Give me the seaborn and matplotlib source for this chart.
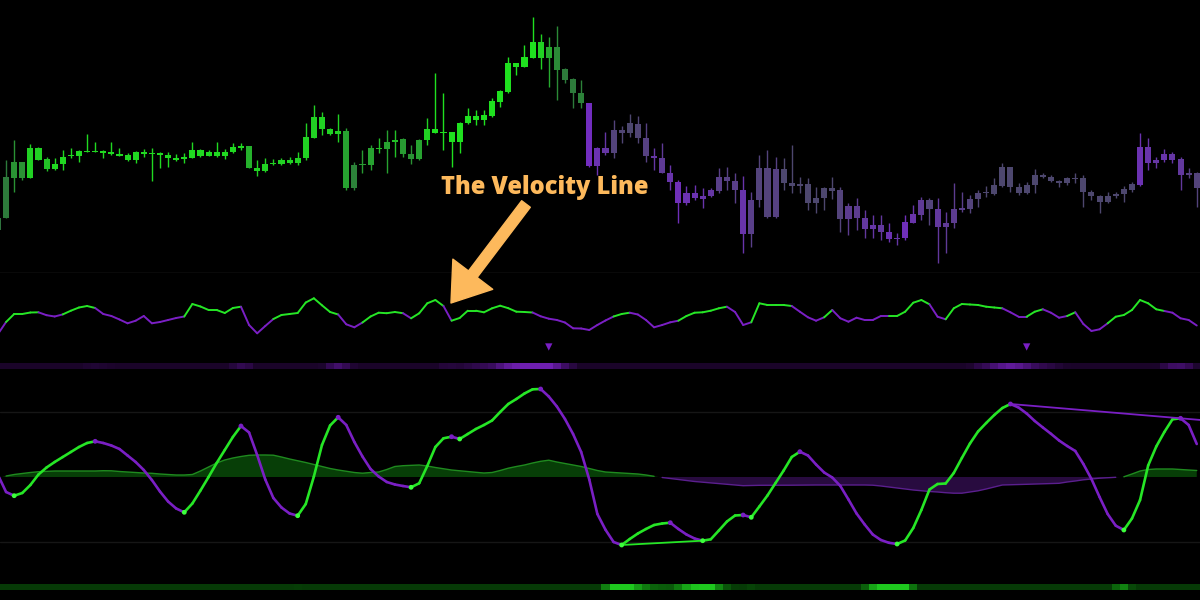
import numpy as np
import matplotlib.pyplot as plt
import seaborn as sns
from matplotlib.collections import LineCollection
from matplotlib.patches import FancyArrowPatch, ArrowStyle
from matplotlib.colors import LinearSegmentedColormap, Normalize

# ---- price candles (no axis shown, arbitrary price units) ----
body_top = [82, 123, 138, 138, 152, 152, 141, 136, 143, 145, 149, 149, 149, 149, 148, 146, 145, 148, 148, 147,
            147, 145, 142, 143, 150, 150, 148, 148, 148, 153, 154, 154, 132, 136, 137, 140, 140, 142, 163, 183,
            183, 171, 169, 169, 135, 136, 152, 152, 158, 160, 161, 146, 160, 171, 171, 168, 168, 177, 184, 184,
            185, 199, 209, 237, 237, 243, 258, 258, 253, 253, 231, 221, 207, 197, 152, 152, 170, 170, 177, 176,
            162, 144, 142, 127, 118, 107, 107, 104, 110, 123, 123, 119, 110, 100, 132, 132, 131, 131, 117, 116,
            116, 102, 112, 112, 110, 94, 94, 82, 75, 75, 68, 62, 78, 86, 100, 100, 91, 77, 91, 92,
            101, 107, 108, 115, 133, 133, 113, 115, 125, 125, 123, 119, 122, 122, 122, 108, 104, 104, 106, 111,
            116, 153, 153, 140, 146, 146, 141, 127, 127]
body_bottom = [70, 82, 122, 122, 122, 140, 131, 131, 136, 144, 144, 148, 148, 147, 146, 144, 140, 140, 146, 146,
               145, 142, 140, 141, 142, 144, 144, 144, 144, 148, 152, 132, 129, 129, 136, 136, 137, 137, 142, 162,
               171, 166, 166, 112, 112, 135, 135, 151, 151, 158, 146, 141, 141, 160, 167, 167, 158, 158, 177, 180,
               180, 184, 198, 208, 233, 233, 242, 242, 242, 230, 220, 207, 197, 134, 134, 147, 147, 167, 167, 162,
               144, 142, 127, 118, 97, 97, 102, 101, 104, 109, 119, 110, 66, 66, 100, 83, 83, 117, 114, 114,
               97, 97, 102, 109, 81, 81, 82, 71, 71, 68, 61, 61, 62, 77, 85, 91, 73, 73, 77, 90,
               91, 101, 107, 106, 114, 113, 107, 107, 115, 123, 119, 117, 117, 121, 108, 104, 98, 98, 104, 106,
               110, 115, 137, 137, 140, 140, 125, 125, 112]
high = [84, 140, 160, 138, 156, 153, 143, 142, 150, 152, 150, 166, 158, 150, 158, 152, 147, 149, 151, 152,
        148, 148, 146, 147, 158, 151, 150, 158, 151, 157, 157, 154, 140, 142, 141, 142, 143, 148, 177, 195,
        188, 172, 186, 172, 138, 150, 155, 162, 170, 170, 162, 155, 161, 182, 227, 207, 168, 178, 192, 190,
        190, 202, 210, 243, 237, 255, 283, 266, 263, 274, 232, 222, 220, 197, 153, 168, 180, 174, 186, 184,
        177, 152, 157, 135, 120, 114, 115, 112, 112, 132, 133, 127, 124, 108, 145, 150, 143, 142, 155, 123,
        122, 113, 113, 123, 113, 97, 102, 90, 85, 85, 77, 67, 85, 95, 103, 102, 102, 88, 117, 108,
        105, 110, 114, 122, 137, 133, 117, 118, 131, 127, 125, 120, 123, 127, 125, 110, 105, 108, 108, 114,
        118, 167, 162, 143, 151, 148, 143, 132, 128]
low = [68, 82, 108, 120, 122, 140, 129, 130, 130, 142, 138, 148, 148, 142, 145, 144, 139, 137, 143, 119,
       132, 133, 139, 137, 142, 143, 144, 143, 141, 147, 150, 132, 124, 128, 135, 135, 136, 135, 140, 162,
       165, 165, 158, 110, 110, 127, 130, 147, 127, 143, 143, 136, 140, 155, 167, 150, 133, 147, 176, 175,
       175, 183, 193, 207, 225, 233, 242, 231, 213, 200, 217, 192, 192, 133, 125, 145, 142, 157, 163, 157,
       138, 130, 127, 110, 77, 95, 100, 92, 103, 107, 110, 97, 47, 53, 93, 82, 82, 110, 107, 107,
       90, 87, 90, 101, 68, 65, 70, 62, 62, 60, 58, 55, 60, 77, 80, 75, 37, 47, 72, 88,
       87, 93, 103, 105, 113, 108, 105, 106, 107, 122, 118, 113, 115, 117, 93, 100, 87, 97, 102, 98,
       108, 114, 130, 132, 138, 137, 110, 122, 93]
# trend strength painted on candles: >0 bullish (green), <0 bearish (purple)
trend = [0.3, 0.35, 0.5, 0.5, 0.9, 0.9, 0.8] + [0.95] * 24 + [0.7] + [0.9] * 11 + \
        [0.6, 0.4, 0.55, 0.6, 0.8, 0.6, 0.8, 0.55, 0.5, 0.6, 0.9] + [1.0] * 13 + \
        [0.9, 0.65, 0.45, 0.35, 0.35, 0.4] + \
        [-0.9, -0.8, -0.7, -0.4, -0.35, -0.3, -0.35, -0.45, -0.7, -0.6, -0.75, -0.85, -0.8, -0.8, -0.75, -0.7,
         -0.5, -0.45, -0.5, -0.75, -0.5, -0.4, -0.4, -0.45] + [-0.3] * 7 + \
        [-0.4, -0.55, -0.55, -0.65, -0.7, -0.65, -0.8, -0.7, -0.85, -0.75, -0.6, -0.4, -0.65, -0.6, -0.55, -0.5,
         -0.4, -0.35] + [-0.3] * 19 + [-0.8, -0.75, -0.7, -0.75, -0.7, -0.65, -0.45, -0.4]

# ---- velocity line ----
velocity = [6, 18, 26, 26, 27.5, 27.7, 24.8, 23.5, 25.6, 29.3, 32.5, 34, 32, 26, 24, 20.5, 16.7, 19.3, 24, 16.7,
            18, 20, 22, 23.5, 36, 33.5, 30, 30, 27, 32, 33.3, 15, 6.7, 14, 21, 25, 26, 27, 37.5, 41.7,
            34.7, 28, 25.5, 15.7, 12.7, 17.5, 23.5, 27.3, 26.8, 28, 26.8, 21.7, 26.7, 36.7, 40, 34, 19.3, 22, 29.3, 29.3,
            27.7, 31.7, 34.3, 31.8, 28.3, 28, 27.5, 23.7, 21.3, 20, 17.5, 11.7, 11.5, 10, 15, 19.5, 23.5, 26, 27.3, 25.5,
            20, 12.7, 15, 17.7, 19.3, 24, 27.3, 27.7, 29.3, 31.7, 33.3, 28, 15, 17.7, 36.7, 35, 35, 35, 34, 28.3,
            22.7, 19.3, 22.7, 30, 21.7, 18.3, 22.3, 20, 20, 24, 24, 24, 28.3, 37.3, 40, 35.7, 23.3, 20.7, 31.7, 36,
            35.5, 35, 33.3, 32.5, 31.7, 27.7, 23.3, 23.3, 28.3, 30.7, 27.3, 22.3, 24, 27.7, 16, 9, 10.7, 16.7, 23.3, 25,
            30, 40, 36.7, 30.7, 29, 27.3, 21.7, 20, 14.5]
velocity_bull = [0, 0, 1, 1, 1, 1, 0, 0, 0, 1, 1, 1, 1] + [0] * 11 + [1] * 7 + [0] * 4 + [1] * 8 + [0] * 3 + \
                [1] * 5 + [0] + [1] * 4 + [0] + [1] * 10 + [0] * 10 + [1] * 2 + [0] * 6 + [1] * 6 + [0] * 3 + \
                [1] * 5 + [0] * 4 + [1] + [0] * 7 + [1] * 5 + [0] * 2 + [1] * 7 + [0] * 3 + [1] * 2 + [0] * 3 + \
                [1] + [0] * 4 + [1] * 7 + [0] * 4
sell_signals = [68, 127]

# ---- oscillator ----
osc = [2, -15, -18.7, -16, -8, 2.5, 9.5, 15, 20, 25, 30, 34, 35.7, 34, 31.5, 28, 21.5, 15, 7, -3,
       -14.5, -24.5, -31.5, -35.3, -26.5, -13.5, 0, 14, 27, 40, 51, 44.5, 22, -2.5, -21, -30.5, -36.5, -38.7, -27, 0.5,
       32, 51.5, 59.7, 52, 35, 20.5, 8, 0.5, -5, -7.5, -9, -10.3, -6.3, 11, 30, 38.7, 40.3, 38, 43, 48,
       52, 56.5, 65, 73, 78, 83.5, 87.7, 88, 80.5, 70.5, 58, 43, 25, -2.5, -37, -52.7, -65, -68, -62, -56.5,
       -52, -48, -46.5, -45.7, -52, -57.5, -61.5, -63.7, -62.3, -53.5, -44.5, -38.5, -38, -40.3, -29.5, -18.5, -6, 6.5, 20, 25.3,
       21.5, 12.5, 4.5, -0.5, -9, -22.5, -36.5, -47.5, -57.5, -63, -65.8, -67, -63.5, -51, -33, -12.5, -7, -6.5, 4, 19,
       33.5, 45.5, 54, 62, 69, 73, 69.5, 63.5, 56, 49.5, 43.2, 36.5, 31, 26, 13, -2, -20, -37, -48.7, -53,
       -41.5, -23, 11.5, 30.5, 45, 57.7, 58.7, 52, 33]
osc_signal = [-1, 1, 2.5, 3.5, 4.5, 5.3, 5.7, 6, 6, 6, 6, 6, 6, 6.3, 6.2, 5.5, 5, 4.5, 4, 3.7,
              3, 2.5, 2, 2, 2.5, 6, 10, 14, 17, 19, 20.5, 21.7, 22, 22, 21.8, 20, 18, 16.3, 14.5, 12.5,
              10.5, 8.5, 7, 5.7, 4.5, 3.8, 4.5, 5, 7.5, 10.5, 11.3, 11.7, 12, 11, 9.5, 8.2, 7, 6.2, 5.5, 4.7,
              4, 4.5, 6.5, 8.8, 10.5, 12, 14, 15.7, 16.8, 15, 13.5, 12, 10.5, 8.5, 6.5, 5, 4.5, 4, 3.5, 3,
              2, 0.7, -0.5, -1.5, -2.5, -3.5, -4.5, -5.2, -5.8, -6.5, -7.2, -8, -8.7, -8.5, -8.3, -8.3, -8.2, -8.2, -8.2, -8.1,
              -8.1, -8, -8, -8, -8, -8, -8, -8, -8.2, -9, -10, -11, -12, -13, -13.8, -14.5, -15, -15.7, -16.2, -16.2,
              -15, -13.8, -12, -10, -8, -7.8, -7.5, -7.3, -7, -6.8, -6.6, -6.3, -5, -4, -2.8, -2, -1.2, -0.8, -0.3, 0.2,
              3, 6, 7.5, 8, 8, 8, 7.5, 7, 6.5]
bull_div = (77, 87)
bear_div = (125, 146)
levels = [65, -65]

GREEN = "#26e626"
PURPLE = "#7a1fc4"
ORANGE = "#fdb95c"

sns.set_theme(style="dark", rc={"axes.facecolor": "black", "figure.facecolor": "black",
                                "axes.edgecolor": "black"})

n = len(osc)
x = np.arange(n)
body_top = np.array(body_top, float)
body_bottom = np.array(body_bottom, float)
osc = np.array(osc, float)
osc_signal = np.array(osc_signal, float)
velocity = np.array(velocity, float)

fig = plt.figure(figsize=(12, 6), dpi=100)
ax1 = fig.add_axes([0, 327 / 600, 1, 273 / 600])
ax2 = fig.add_axes([0, 228 / 600, 1, 99 / 600])
ax3 = fig.add_axes([0, 0, 1, 228 / 600])
for ax in (ax1, ax2, ax3):
    ax.set_facecolor("black")
    ax.set_xlim(0.25, 148.4)
    ax.set_xticks([])
    ax.set_yticks([])
    for s in ax.spines.values():
        s.set_visible(False)


def tone_color(t):
    k = np.clip((abs(t) - 0.3) / 0.7, 0, 1)
    if t >= 0:
        dim, bright = np.array([0.18, 0.45, 0.24]), np.array([0.12, 0.88, 0.12])
    else:
        dim, bright = np.array([0.30, 0.28, 0.43]), np.array([0.47, 0.16, 0.80])
    return tuple(dim + (bright - dim) * k)


# candles
cols = [tone_color(t) for t in trend]
ax1.vlines(x, low, high, colors=cols, linewidth=1.0)
ax1.bar(x, np.maximum(body_top - body_bottom, 1.2), bottom=body_bottom, width=0.75, color=cols, linewidth=0)
ax1.set_ylim(27, 300)
ax1.spines["bottom"].set_visible(True)
ax1.spines["bottom"].set_color("#2e2e2e")
ax1.spines["bottom"].set_linewidth(1.0)

# velocity line
vpts = np.column_stack([x, velocity])
vsegs = np.stack([vpts[:-1], vpts[1:]], axis=1)
vcols = [GREEN if b else PURPLE for b in velocity_bull[1:]]
ax2.add_collection(LineCollection(vsegs, colors=vcols, linewidths=1.4, capstyle="round"))
sns.scatterplot(x=sell_signals, y=[-7] * len(sell_signals), marker="v", s=28, color=PURPLE,
                edgecolor="none", ax=ax2, legend=False)
purple_cmap = LinearSegmentedColormap.from_list("pz", ["#1a0429", "#360b58", "#6e1fb0"])
ax2.bar(x, 6, bottom=-29, width=1.0, color=purple_cmap(Normalize(30, 80, clip=True)(osc)), linewidth=0)
ax2.set_ylim(-32, 67)

# oscillator panel
for lv in levels:
    ax3.axhline(lv, color="#161616", linewidth=1.0)
ax3.fill_between(x, 0, osc_signal, where=osc_signal >= 0, interpolate=True, color="#118a11", alpha=0.45, linewidth=0)
ax3.fill_between(x, 0, osc_signal, where=osc_signal < 0, interpolate=True, color="#5a1a8c", alpha=0.45, linewidth=0)
sig_pos = np.where(osc_signal >= 0, osc_signal, np.nan)
sig_neg = np.where(osc_signal <= 0, osc_signal, np.nan)
ax3.plot(x, sig_pos, color="#1f8a1f", linewidth=1.0)
ax3.plot(x, sig_neg, color="#5b1f8e", linewidth=1.0)

opts = np.column_stack([x, osc])
osegs = np.stack([opts[:-1], opts[1:]], axis=1)
ocols = [GREEN if osc[i + 1] >= osc[i] else PURPLE for i in range(n - 1)]
ax3.add_collection(LineCollection(osegs, colors=ocols, linewidths=1.9, capstyle="round"))

# pivots
lows_i = [i for i in range(1, n - 1) if osc[i] < osc[i - 1] and osc[i] < osc[i + 1]]
highs_i = [i for i in range(1, n - 1) if osc[i] > osc[i - 1] and osc[i] > osc[i + 1]]
sns.scatterplot(x=lows_i, y=osc[lows_i], color="#3cff3c", s=12, edgecolor="none", ax=ax3, legend=False, zorder=5)
sns.scatterplot(x=highs_i, y=osc[highs_i], color=PURPLE, s=12, edgecolor="none", ax=ax3, legend=False, zorder=5)

# divergence lines
a, b = bull_div
ax3.plot([a, b], [osc[a], osc[b]], color=GREEN, linewidth=1.3)
a, b = bear_div
slope = (osc[b] - osc[a]) / (b - a)
x_end = 148.4
ax3.plot([a, x_end], [osc[a], osc[a] + slope * (x_end - a)], color=PURPLE, linewidth=1.3)

green_cmap = LinearSegmentedColormap.from_list("gz", ["#063a06", "#0c6a0c", "#1ec81e"])
ax3.bar(x, 6, bottom=-113, width=1.0, color=green_cmap(Normalize(38, 62, clip=True)(-osc)), linewidth=0)
ax3.set_ylim(-123, 105)

# annotation
fig.text(545 / 1200, 1 - 187 / 600, "The Velocity Line", color=ORANGE, fontsize=17, fontweight="heavy",
         family=["Open Sans", "DejaVu Sans"], ha="center", va="center")
arrow = FancyArrowPatch((526 / 1200, 1 - 204 / 600), (451 / 1200, 1 - 303 / 600),
                        transform=fig.transFigure,
                        arrowstyle=ArrowStyle.Simple(head_length=2.6, head_width=3.6, tail_width=0.78),
                        mutation_scale=10, color=ORANGE, shrinkA=0, shrinkB=0)
fig.patches.append(arrow)

fig.savefig("out.png", dpi=100, facecolor="black")
